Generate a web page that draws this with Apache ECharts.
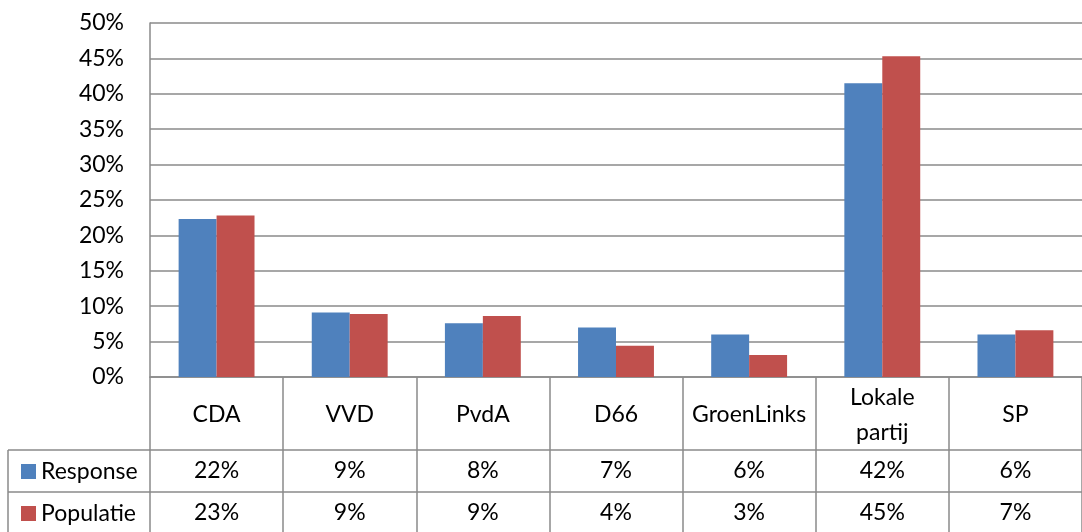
<!DOCTYPE html>
<html>
<head>
<meta charset="utf-8">
<script src="https://cdn.jsdelivr.net/npm/echarts@6/dist/echarts.min.js"></script>
<style>
html,body{margin:0;padding:0;background:#fff;}
#chart{width:1082px;height:532px;}
</style>
</head>
<body>
<div id="chart"></div>
<script>
var categories = ['CDA', 'VVD', 'PvdA', 'D66', 'GroenLinks', 'Lokale\npartij', 'SP'];
var seriesNames = ['Response', 'Populatie'];
var response = [0.223, 0.091, 0.076, 0.070, 0.060, 0.415, 0.060];
var populatie = [0.228, 0.089, 0.086, 0.044, 0.031, 0.453, 0.066];
var yTicks = [0, 0.05, 0.10, 0.15, 0.20, 0.25, 0.30, 0.35, 0.40, 0.45, 0.50];

var FONT = 'Lato';
var FS = 23;
var GRID_COLOR = '#8a8a8a';
var pct = function (v) { return Math.round(v * 100) + '%'; };

var chart = echarts.init(document.getElementById('chart'));
var option = {
  animation: false,
  textStyle: { fontFamily: FONT },
  grid: { left: 150, right: 0, top: 23, bottom: 155, containLabel: false },
  legend: [
    { data: [seriesNames[0]], left: 16, top: 455, orient: 'vertical', itemWidth: 15, itemHeight: 15, icon: 'rect',
      textStyle: { fontFamily: FONT, fontSize: FS, color: '#000' }, selectedMode: false },
    { data: [seriesNames[1]], left: 16, top: 497, orient: 'vertical', itemWidth: 15, itemHeight: 15, icon: 'rect',
      textStyle: { fontFamily: FONT, fontSize: FS, color: '#000' }, selectedMode: false }
  ],
  xAxis: [
    {
      type: 'category', data: categories, position: 'bottom', offset: 0,
      axisLine: { show: true, lineStyle: { color: GRID_COLOR, width: 1.5 } },
      axisTick: { show: true, length: 155, lineStyle: { color: GRID_COLOR, width: 1.5 } },
      axisLabel: { margin: 38, verticalAlign: 'middle', fontFamily: FONT, fontSize: FS, lineHeight: 35, color: '#000', interval: 0 }
    },
    {
      type: 'category', data: categories, position: 'bottom', offset: 73,
      axisLine: { show: true, lineStyle: { color: GRID_COLOR, width: 1.5 } },
      axisTick: { show: false },
      axisLabel: { margin: 21, verticalAlign: 'middle', fontFamily: FONT, fontSize: FS, color: '#000', interval: 0,
        formatter: function (v, i) { return pct(response[i]); } }
    },
    {
      type: 'category', data: categories, position: 'bottom', offset: 115,
      axisLine: { show: true, lineStyle: { color: GRID_COLOR, width: 1.5 } },
      axisTick: { show: false },
      axisLabel: { margin: 21, verticalAlign: 'middle', fontFamily: FONT, fontSize: FS, color: '#000', interval: 0,
        formatter: function (v, i) { return pct(populatie[i]); } }
    }
  ],
  yAxis: {
    type: 'value', min: yTicks[0], max: yTicks[yTicks.length - 1], interval: yTicks[1] - yTicks[0],
    axisLine: { show: true, lineStyle: { color: GRID_COLOR, width: 1.5 } },
    axisTick: { show: false },
    splitLine: { show: true, lineStyle: { color: GRID_COLOR, width: 1.5 } },
    axisLabel: { margin: 26, fontFamily: FONT, fontSize: FS, color: '#000', formatter: function (v) { return pct(v); } }
  },
  series: [
    { name: seriesNames[0], type: 'bar', xAxisIndex: 0, data: response, barGap: '0%', barCategoryGap: '43%',
      itemStyle: { color: '#4F81BD' } },
    { name: seriesNames[1], type: 'bar', xAxisIndex: 0, data: populatie, barGap: '0%', barCategoryGap: '43%',
      itemStyle: { color: '#C0504D' } }
  ],
  graphic: [
    { type: 'line', shape: { x1: 8, y1: 450, x2: 150, y2: 450 }, style: { stroke: GRID_COLOR, lineWidth: 1.5 } },
    { type: 'line', shape: { x1: 8, y1: 492, x2: 150, y2: 492 }, style: { stroke: GRID_COLOR, lineWidth: 1.5 } },
    { type: 'line', shape: { x1: 8, y1: 450, x2: 8, y2: 532 }, style: { stroke: GRID_COLOR, lineWidth: 1.5 } }
  ]
};
chart.setOption(option);
</script>
</body>
</html>
